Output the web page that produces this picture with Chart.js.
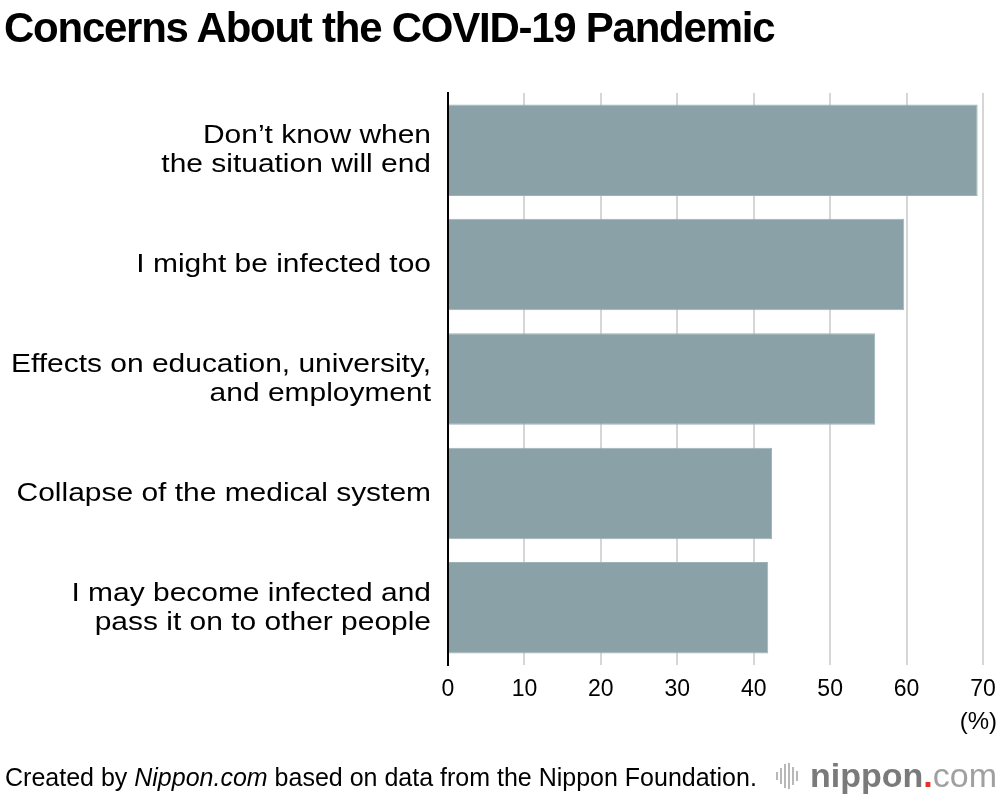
<!DOCTYPE html>
<html>
<head>
<meta charset="utf-8">
<script src="https://cdn.jsdelivr.net/npm/chart.js@4"></script>
<style>
  html, body { margin: 0; padding: 0; background: #fff; }
  #wrap { position: relative; width: 1000px; height: 796px; overflow: hidden; font-family: "Liberation Sans", Arial, sans-serif; }
  #c { position: absolute; left: 0; top: 0; }
  #title { position: absolute; left: 4px; top: 7px; font-size: 42px; line-height: 1; font-weight: bold; color: #000; letter-spacing: -1.25px; white-space: nowrap; }
  #unit { position: absolute; right: 3px; top: 709px; font-size: 24px; line-height: 1; color: #000; }
  #foot { position: absolute; left: 5px; top: 765px; font-size: 25px; line-height: 1; color: #000; white-space: nowrap; }
  #logo { position: absolute; right: 3px; top: 758px; line-height: 1; white-space: nowrap; font-size: 34px; color: #7a7a7a; }
  #logo .n { font-weight: bold; }
  #logo .dot { color: #e8302a; font-weight: bold; }
  #logo .com { color: #a0a0a0; font-weight: normal; }
  #logo .ic { display: inline-block; vertical-align: -2px; margin-right: 12px; }
</style>
</head>
<body>
<div id="wrap">
  <canvas id="c" width="1000" height="796"></canvas>
  <div id="title">Concerns About the COVID-19 Pandemic</div>
  <div id="unit">(%)</div>
  <div id="foot">Created by <i>Nippon.com</i> based on data from the Nippon Foundation.</div>
  <div id="logo"><svg class="ic" width="22" height="26" viewBox="0 0 22 26"><g fill="#b8b8b8"><rect x="0" y="9" width="2" height="8"/><rect x="4" y="5" width="2" height="16"/><rect x="8" y="1" width="2" height="24"/><rect x="12" y="0" width="2" height="26"/><rect x="16" y="4" width="2" height="18"/><rect x="20" y="8" width="2" height="10"/></g></svg><span class="n">nippon</span><span class="dot">.</span><span class="com">com</span></div>
</div>
<script>
const categories = [
  ["Don\u2019t know when", "the situation will end"],
  ["I might be infected too"],
  ["Effects on education, university,", "and employment"],
  ["Collapse of the medical system"],
  ["I may become infected and", "pass it on to other people"]
];
const values = [69.3, 59.7, 55.9, 42.4, 41.9];
const tickValues = [0, 10, 20, 30, 40, 50, 60, 70];

const FONT = "'Liberation Sans', Arial, sans-serif";
const LABEL_PAD = 17;
const LABEL_STRETCH = 1.13;

const canvas = document.getElementById('c');

// The reference face is wider than Liberation Sans: stretch category labels horizontally.
const stretchLabels = {
  id: 'stretchLabels',
  afterUpdate(chart) {
    const ys = chart.scales.y;
    if (ys.__patched) return;
    const orig = ys.drawLabels.bind(ys);
    ys.drawLabels = function (area) {
      const ctx = this.ctx;
      const xr = this.right - LABEL_PAD;
      ctx.save();
      ctx.translate(xr, 0);
      ctx.scale(LABEL_STRETCH, 1);
      ctx.translate(-xr, 0);
      orig(area);
      ctx.restore();
    };
    ys.__patched = true;
  }
};

new Chart(canvas, {
  type: 'bar',
  data: {
    labels: categories,
    datasets: [{
      data: values,
      backgroundColor: '#89a1a7',
      borderColor: '#9db2b7',
      borderWidth: 1,
      borderSkipped: 'start',
      barPercentage: 0.8,
      categoryPercentage: 1.0
    }]
  },
  plugins: [stretchLabels],
  options: {
    indexAxis: 'y',
    responsive: false,
    animation: false,
    layout: { padding: { top: 93, right: 17, left: 0, bottom: 0 } },
    plugins: { legend: { display: false }, tooltip: { enabled: false }, title: { display: false } },
    scales: {
      x: {
        min: 0, max: 70,
        afterBuildTicks: (s) => { s.ticks = tickValues.map(v => ({ value: v })); },
        grid: {
          color: (ctx) => (ctx.tick && ctx.tick.value === 0) ? 'rgba(0,0,0,0)' : '#d6d6d6',
          lineWidth: 2,
          drawTicks: false
        },
        border: { display: false },
        ticks: { color: '#000', font: { family: FONT, size: 23 }, padding: 11, maxRotation: 0 },
        afterFit: (s) => { s.height = 131; s.paddingLeft = 0; s.paddingRight = 0; }
      },
      y: {
        grid: { display: false, drawTicks: false },
        border: { display: true, color: '#000', width: 2 },
        ticks: { color: '#000', font: { family: FONT, size: 26.5, lineHeight: 1.1 }, padding: LABEL_PAD },
        afterFit: (s) => { s.width = 448; }
      }
    }
  }
});
</script>
</body>
</html>
